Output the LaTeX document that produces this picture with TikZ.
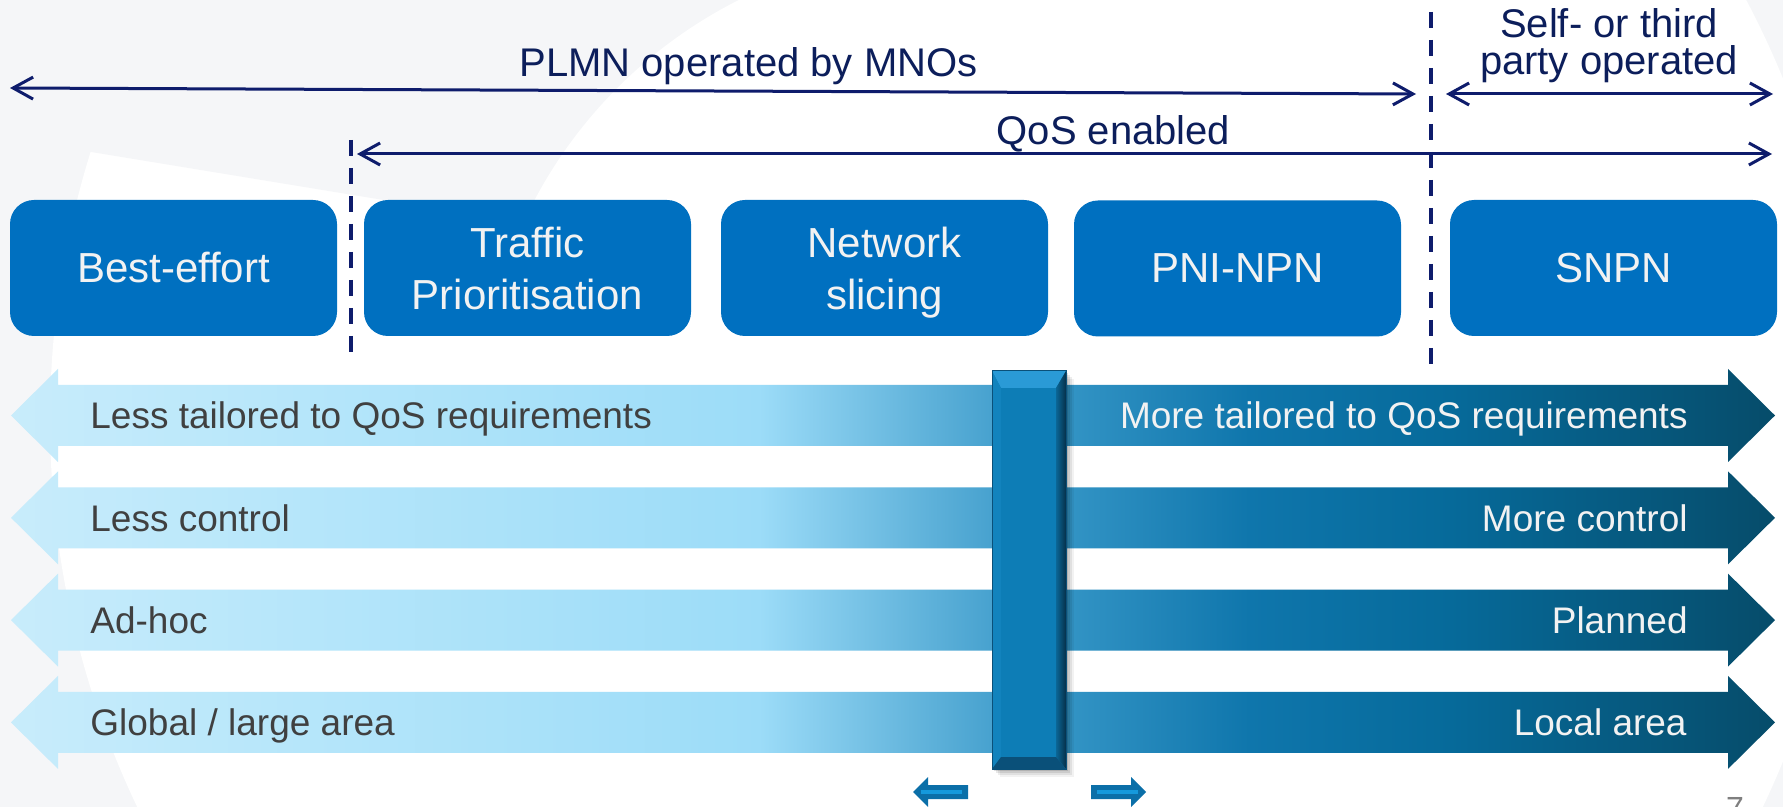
\documentclass[tikz,border=0pt]{standalone}
\usepackage{fontspec}
\setmainfont{Liberation Sans}
\usetikzlibrary{arrows.meta}

\definecolor{bggray}{HTML}{F5F6F8}
\definecolor{navyline}{HTML}{0E1C6C}
\definecolor{navytext}{HTML}{0C1E5B}
\definecolor{boxblue}{HTML}{0070C0}
\definecolor{boxtext}{HTML}{F2F2F2}
\definecolor{darktext}{HTML}{404040}
\definecolor{pagegray}{HTML}{7F7F7F}
\definecolor{sA}{HTML}{C8ECFB}
\definecolor{sB}{HTML}{B6E6FA}
\definecolor{sC}{HTML}{9CDCF8}
\definecolor{sD}{HTML}{48A2CF}
\definecolor{sE}{HTML}{3394C5}
\definecolor{sF}{HTML}{0F76AC}
\definecolor{sG}{HTML}{066A9A}
\definecolor{sH}{HTML}{064C6A}
\definecolor{knobmain}{HTML}{0D7DB6}
\definecolor{knobtop}{HTML}{2A9AD6}
\definecolor{knobleft}{HTML}{1283BD}
\definecolor{knobbottom}{HTML}{0A5079}
\definecolor{knobright}{HTML}{06304A}
\definecolor{nudge}{HTML}{0B6FA8}
\definecolor{nudgeline}{HTML}{1599DC}

% light end on the left, dark end on the right
\pgfdeclarehorizontalshading{bandshade}{100bp}{%
  color(0bp)=(sA); color(25bp)=(sA); color(33.2bp)=(sB); color(46.2bp)=(sC);
  color(52.75bp)=(sD); color(54.9bp)=(sE); color(60.1bp)=(sF);
  color(65.8bp)=(sG); color(75bp)=(sH); color(100bp)=(sH)}

\tikzset{
  span/.style={draw=navyline, line width=1.5pt,
    {Straight Barb[length=10pt,width=11pt]}-{Straight Barb[length=10pt,width=11pt]}},
  divider/.style={draw=navyline, line width=1.6pt, dash pattern=on 8pt off 6pt},
  toplabel/.style={text=navytext, font=\fontsize{20}{18.5}\selectfont, inner sep=0pt},
  stagebox/.style={fill=boxblue, rounded corners=12pt, minimum width=163.5pt,
    minimum height=68pt, inner sep=0pt},
  stagetext/.style={text=boxtext, font=\fontsize{21}{26}\selectfont, align=center, inner sep=0pt},
  lefttext/.style={text=darktext, font=\fontsize{18.5}{22}\selectfont, inner sep=0pt, anchor=base west},
  righttext/.style={text=boxtext, font=\fontsize{18.5}{22}\selectfont, inner sep=0pt, anchor=base east},
}

\begin{document}
\begin{tikzpicture}[x=0.5pt,y=-0.5pt]
\useasboundingbox (0,0) rectangle (1783,807);

% faint backdrop
\fill[bggray] (0,0) rectangle (1783,807);
\fill[white] (950,420) circle[radius=900];
\fill[bggray] (0,0) -- (950,0) -- (950,293) -- (0,137) -- cycle;
\fill[white] (950,420) circle[radius=470];

% dashed dividers
\coordinate (d1top) at (351,140);
\coordinate (d1bot) at (351,360);
\coordinate (d2top) at (1431,12);
\coordinate (d2bot) at (1431,366);
\draw[divider] (d1top) -- (d1bot);
\draw[divider] (d2top) -- (d2bot);

% span arrows
\coordinate (plmnL) at (10,88);
\coordinate (plmnR) at (1416,94);
\coordinate (selfL) at (1446,94);
\coordinate (selfR) at (1773,94);
\coordinate (qosL) at (357,154);
\coordinate (qosR) at (1772,154);
\draw[span] (plmnL) -- (plmnR);
\draw[span] (selfL) -- (selfR);
\draw[span] (qosL) -- (qosR);

\node[toplabel, anchor=base] (plmn) at (748.5,77) {PLMN operated by MNOs};
\node[toplabel, anchor=base] (qos) at (1113.5,145) {QoS enabled};
\node[toplabel, align=center] (self) at (1609,46) {Self- or third\\party operated};

% stage boxes
\node[stagebox] (be) at (173.5,268) {};
\node[stagebox] (tp) at (527.5,268) {};
\node[stagebox] (ns) at (884.5,268) {};
\node[stagebox] (pni) at (1237.5,268.5) {};
\node[stagebox] (snpn) at (1613.5,268) {};
\node[stagetext] (beT) at (be.center) {Best-effort};
\node[stagetext] (tpT) at (tp.center) {Traffic\\Prioritisation};
\node[stagetext] (nsT) at ([yshift=-2.1pt]ns.center) {Network\\slicing};
\node[stagetext] (pniT) at (pni.center) {PNI-NPN};
\node[stagetext] (snpnT) at (snpn.center) {SNPN};

% two-way scale bands
\foreach \cy in {415.5,517.8,620.1,722.4} {
  \shade[shading=bandshade]
    (11,\cy) -- (58,\cy-46.5) -- (58,\cy-30.5) -- (1728,\cy-30.5) -- (1728,\cy-46.5)
    -- (1775,\cy) -- (1728,\cy+46.5) -- (1728,\cy+30.5) -- (58,\cy+30.5)
    -- (58,\cy+46.5) -- cycle;
}

\node[lefttext] (lt1) at (90,428.7) {Less tailored to QoS requirements};
\node[righttext] (rt1) at (1688,428.7) {More tailored to QoS requirements};
\node[lefttext] (lt2) at (90,531) {Less control};
\node[righttext] (rt2) at (1688,531) {More control};
\node[lefttext] (lt3) at (90,633.3) {Ad-hoc};
\node[righttext] (rt3) at (1688,633.3) {Planned};
\node[lefttext] (lt4) at (90,735.6) {Global / large area};
\node[righttext] (rt4) at (1687,735.6) {Local area};

% slider knob with soft shadow and bevel
\foreach \o/\a in {8/0.05,6/0.07,4/0.09,2/0.12}
  \fill[black, opacity=\a] (992+\o,371+\o) rectangle (1066+\o,769+\o);
\fill[knobmain] (992,371) rectangle (1066,769);
\fill[knobtop] (992,371) -- (1066,371) -- (1056,388) -- (1001,388) -- cycle;
\fill[knobleft] (992,371) -- (1001,388) -- (1001,757) -- (992,769) -- cycle;
\shade[left color=knobmain!70!knobright, right color=knobright]
  (1066,371) -- (1056,388) -- (1056,757) -- (1066,769) -- cycle;
\fill[knobbottom] (992,769) -- (1001,757) -- (1056,757) -- (1066,769) -- cycle;
\fill[knobmain] (1001,388) rectangle (1056,757);
\draw[knobbottom, line width=0.5pt] (992,371) rectangle (1066,769);

% small direction cues under the knob
\fill[nudge] (913,792) -- (928,777) -- (928,785) -- (968,785) -- (968,799)
  -- (928,799) -- (928,807) -- cycle;
\draw[nudgeline, line width=2pt] (921,792) -- (962,792);
\fill[nudge] (1146,792) -- (1131,777) -- (1131,785) -- (1091,785) -- (1091,799)
  -- (1131,799) -- (1131,807) -- cycle;
\draw[nudgeline, line width=2pt] (1097,792) -- (1138,792);

% page number
\node[text=pagegray, font=\fontsize{16}{16}\selectfont, inner sep=0pt, anchor=base]
  (pg) at (1735,819) {7};
\end{tikzpicture}
\end{document}
